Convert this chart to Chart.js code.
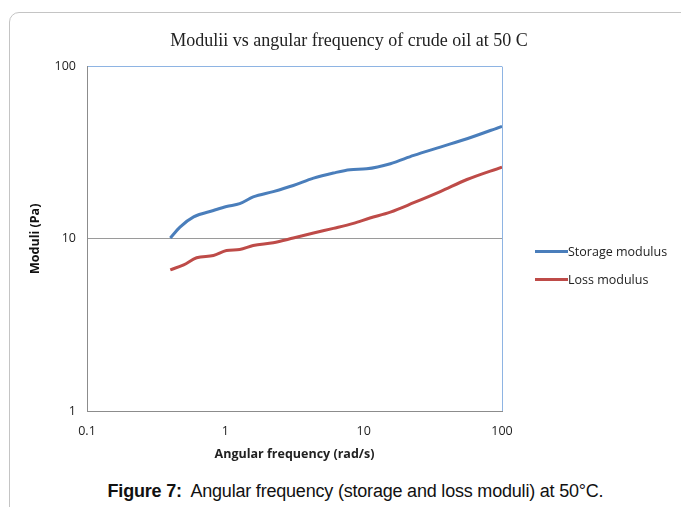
<!DOCTYPE html>
<html>
<head>
<meta charset="utf-8">
<script src="https://cdn.jsdelivr.net/npm/chart.js@4.4.1/dist/chart.umd.min.js"></script>
<style>
  html, body { margin: 0; padding: 0; background: #fff; overflow: hidden; }
  body { width: 681px; height: 507px; position: relative; }
  #card {
    position: absolute; left: 9px; top: 12px; width: 720px; height: 540px;
    border: 1px solid #c4c4c4; border-radius: 10px; box-sizing: border-box;
  }
  #wrap { position: absolute; left: 0; top: 0; width: 681px; height: 470px; }
  #legend {
    position: absolute; left: 535px; top: 243px;
    font: 12.5px "Open Sans", "Noto Sans", sans-serif; color: #222;
  }
  #legend div { height: 28px; line-height: 18px; white-space: nowrap; }
  #legend span.sw {
    display: inline-block; width: 33px; height: 3px; vertical-align: middle;
    margin-right: 0; position: relative; top: -1px;
  }
  #caption {
    position: absolute; left: 0; width: 711px; top: 481px; text-align: center;
    font: 18px "Liberation Sans", Arial, sans-serif; color: #111; letter-spacing: -0.2px;
  }
</style>
</head>
<body>
<div id="card"></div>
<div id="wrap"><canvas id="chart" width="681" height="470"></canvas></div>
<div id="legend"></div>
<div id="caption"><b>Figure 7:</b>&nbsp; Angular frequency (storage and loss moduli) at 50°C.</div>
<script>
  // angular frequency (rad/s) and moduli (Pa)
  const freq = [0.4, 0.47, 0.59, 0.82, 1.02, 1.27, 1.59, 2.22, 3.1, 4.34, 6.04, 7.98, 10.5, 15.6, 23, 35.8, 55.8, 100];
  const storage = [10.1, 11.7, 13.4, 14.6, 15.4, 16.0, 17.5, 18.8, 20.4, 22.5, 24.1, 25.2, 25.5, 27.3, 30.5, 34.1, 38.1, 45.0];
  const freqLoss = [0.4, 0.5, 0.62, 0.82, 1.02, 1.27, 1.59, 2.22, 3.1, 4.34, 6.04, 8.43, 11.1, 15.6, 23, 35.8, 55.8, 100];
  const loss = [6.6, 7.06, 7.76, 8.0, 8.55, 8.67, 9.14, 9.48, 10.1, 10.8, 11.5, 12.3, 13.2, 14.3, 16.2, 18.8, 22.1, 26.1];
  const xTicks = [0.1, 1, 10, 100];
  const yTicks = [1, 10, 100];

  const SERIES = [
    { label: 'Storage modulus', x: freq, y: storage, color: '#4a7ebb' },
    { label: 'Loss modulus', x: freqLoss, y: loss, color: '#be4b48' },
  ];

  const tickFont = { family: '"Open Sans", "Noto Sans", sans-serif', size: 12.5 };
  const titleFont = { family: '"Open Sans", "Noto Sans", sans-serif', size: 12.5, weight: 'bold' };
  const plotBlue = '#8eb4e3';
  const axisGray = '#8c8c8c';

  document.getElementById('legend').innerHTML = SERIES.map(s =>
    `<div><span class="sw" style="background:${s.color}"></span>${s.label}</div>`
  ).join('');

  new Chart(document.getElementById('chart'), {
    type: 'scatter',
    data: {
      datasets: SERIES.map(s => ({
        label: s.label,
        data: s.x.map((v, i) => ({ x: v, y: s.y[i] })),
        showLine: true,
        borderColor: s.color,
        backgroundColor: s.color,
        borderWidth: 3,
        pointRadius: 0,
        tension: 0.4,
        cubicInterpolationMode: 'monotone',
      })),
    },
    options: {
      responsive: false,
      animation: false,
      layout: { padding: { left: 17, right: 0, top: 26, bottom: 0 } },
      plugins: {
        legend: { display: false },
        tooltip: { enabled: false },
        title: {
          display: true,
          text: 'Modulii vs angular frequency of crude oil at 50 C',
          color: '#222',
          font: { family: '"Liberation Serif", "DejaVu Serif", serif', size: 18, weight: 'normal', lineHeight: 1.2 },
          padding: { top: 4, bottom: 15 },
        },
      },
      scales: {
        x: {
          type: 'logarithmic',
          min: 0.1,
          max: 100,
          afterBuildTicks: s => { s.ticks = xTicks.map(v => ({ value: v })); },
          afterFit: s => { s.height = 59; },
          ticks: {
            color: '#222', font: tickFont, padding: 13, maxRotation: 0,
            callback: v => String(v),
          },
          grid: {
            drawTicks: false,
            color: c => (c.tick && c.tick.value === 100 ? plotBlue : 'rgba(0,0,0,0)'),
          },
          border: { color: axisGray, width: 1 },
          title: {
            display: true, text: 'Angular frequency (rad/s)', color: '#222', font: titleFont,
            padding: { top: 0, bottom: 8 },
          },
        },
        y: {
          type: 'logarithmic',
          min: 1,
          max: 100,
          afterBuildTicks: s => { s.ticks = yTicks.map(v => ({ value: v })); },
          afterFit: s => { s.width = 70; },
          ticks: {
            color: '#222', font: tickFont, padding: 11,
            callback: v => String(v),
          },
          grid: {
            drawTicks: false,
            color: c => (c.tick && c.tick.value === 100 ? plotBlue : '#9a9a9a'),
          },
          border: { color: axisGray, width: 1 },
          title: {
            display: true, text: 'Moduli (Pa)', color: '#111', font: titleFont,
            padding: { top: 11, bottom: 0 },
          },
        },
        // empty spacer on the right, leaves room for the legend
        spacer: {
          type: 'linear',
          position: 'right',
          display: true,
          grid: { display: false },
          border: { display: false },
          ticks: { display: false },
          afterFit: s => { s.width = 179; },
        },
      },
    },
  });
</script>
</body>
</html>
